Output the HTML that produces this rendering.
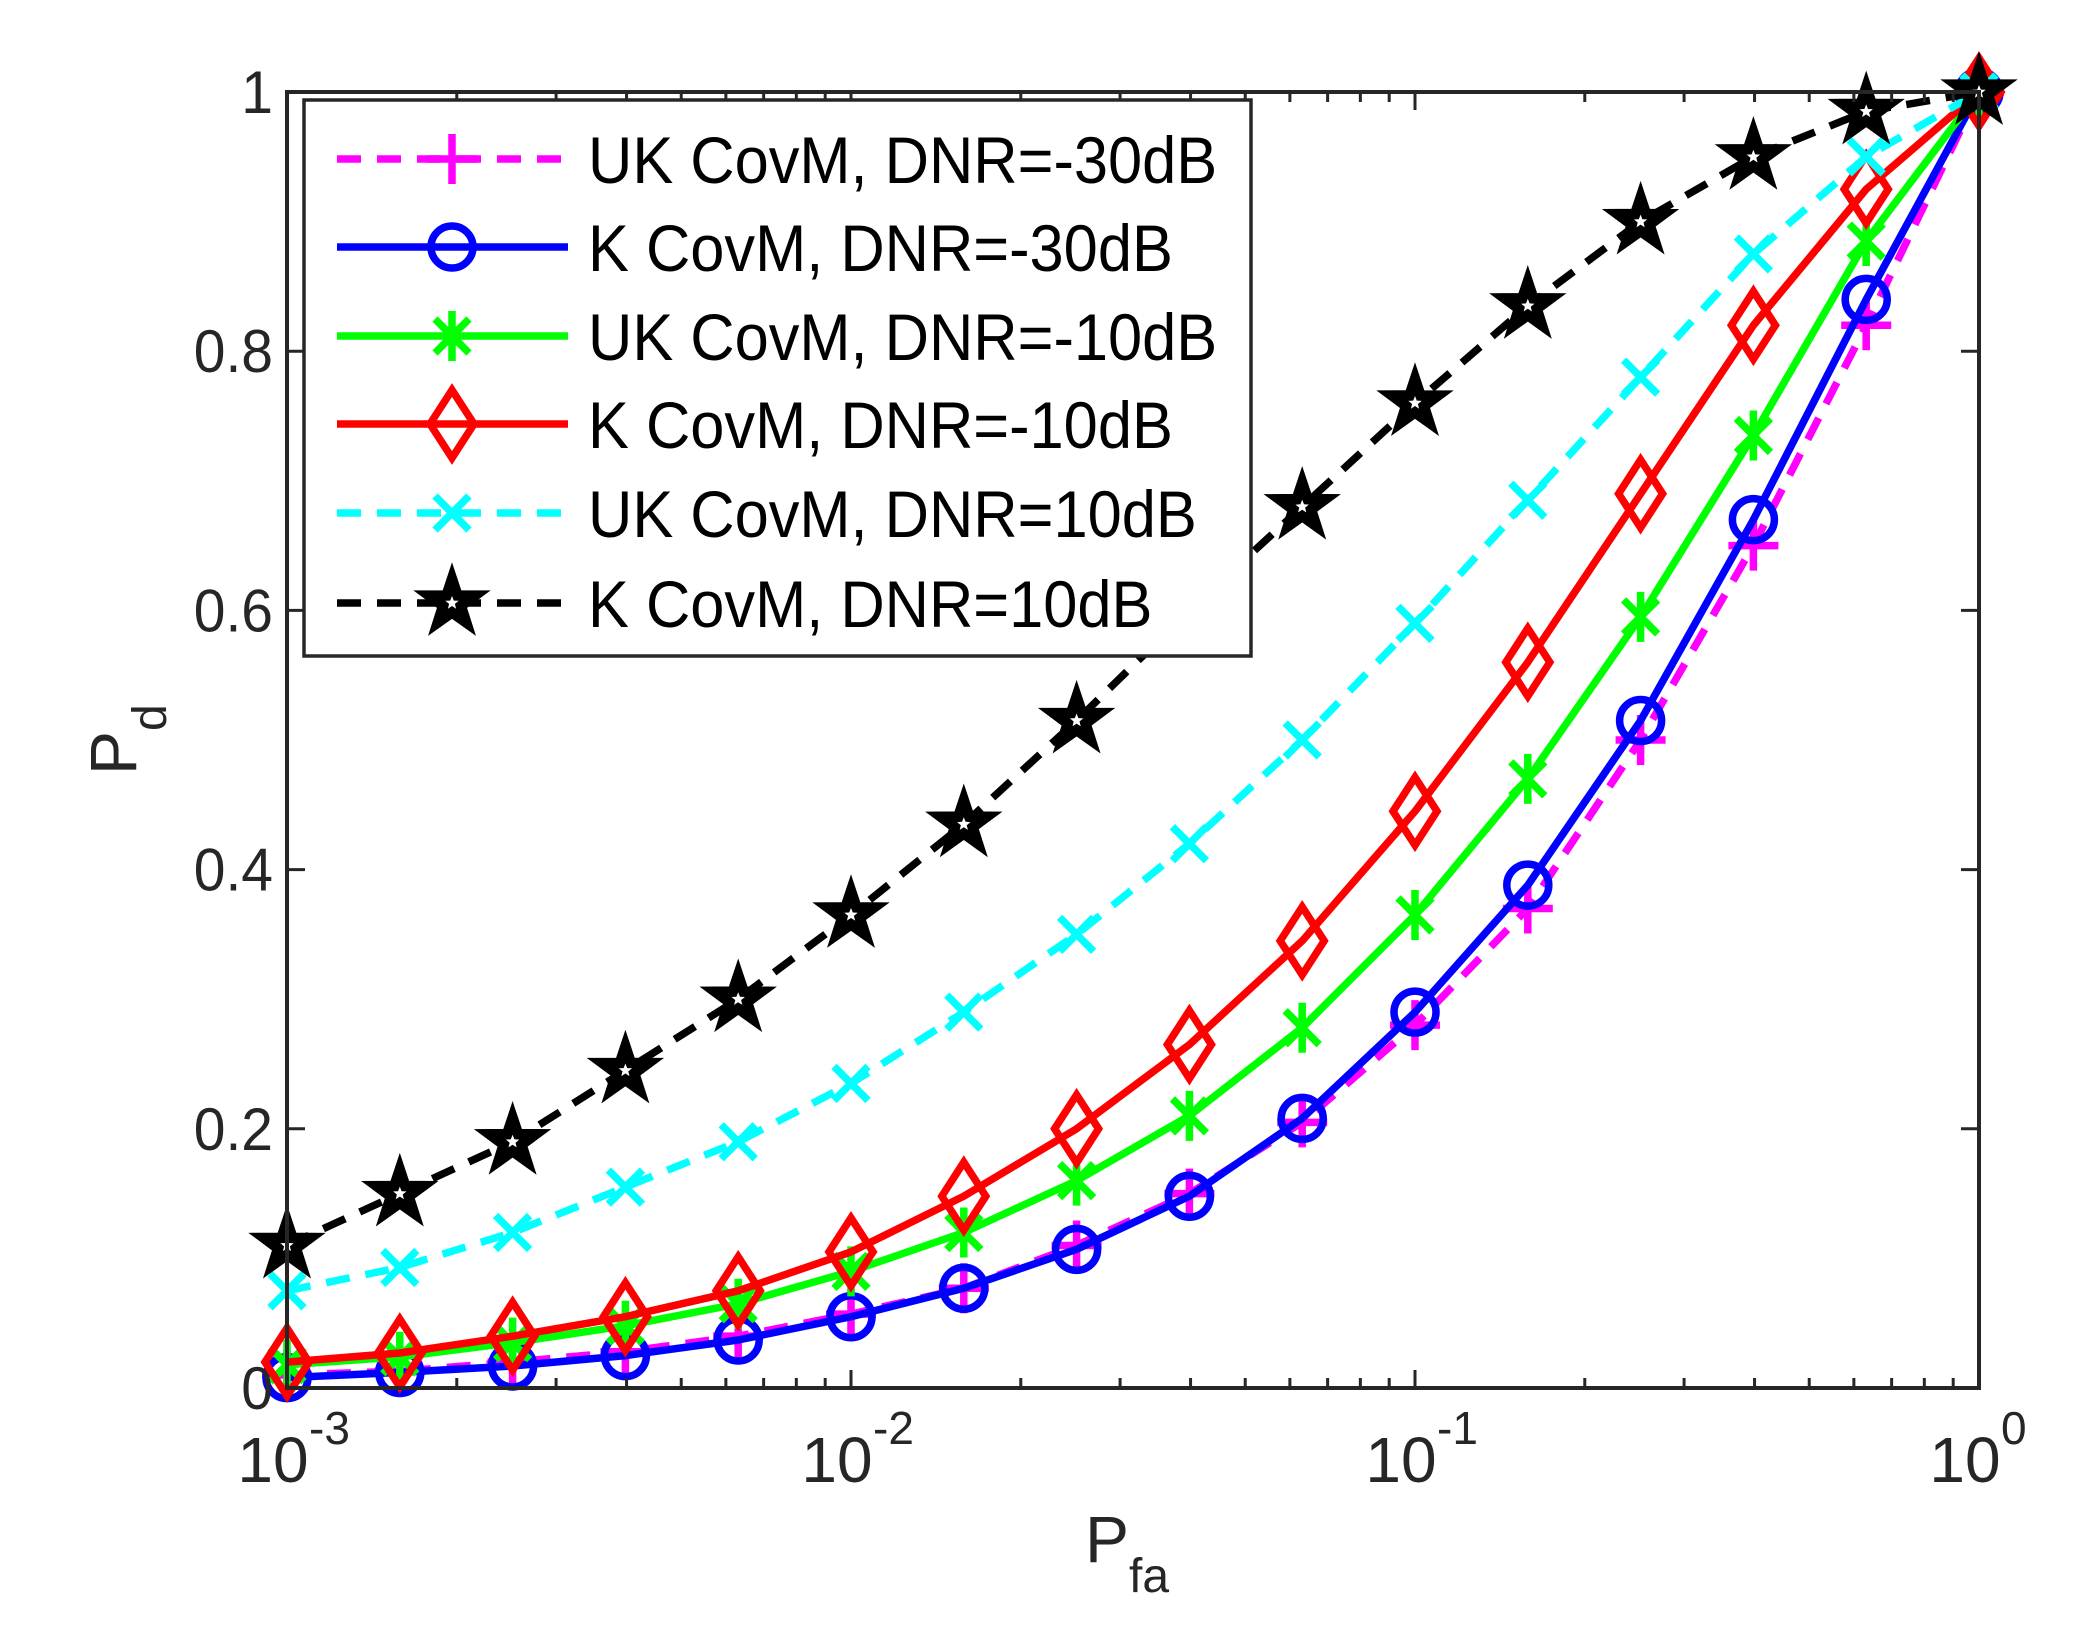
<!DOCTYPE html>
<html><head><meta charset="utf-8"><style>
html,body{margin:0;padding:0;background:#fff;}
svg{display:block;font-family:"Liberation Sans",Arial,sans-serif;}
</style></head><body>
<svg id="chart" width="2073" height="1631" viewBox="0 0 2073 1631" xmlns="http://www.w3.org/2000/svg">
<rect width="2073" height="1631" fill="#fff"/>
<g id="plot"></g>
<g id="axes"></g>
<g id="legend"></g>
</svg>
<script>
const xExp = [-3,-2.8,-2.6,-2.4,-2.2,-2,-1.8,-1.6,-1.4,-1.2,-1,-0.8,-0.6,-0.4,-0.2,0];
const ukM30 = [0.01,0.013,0.02,0.028,0.04,0.057,0.077,0.11,0.15,0.205,0.28,0.37,0.5,0.65,0.82,1.0];
const kM30 = [0.008,0.012,0.017,0.025,0.037,0.055,0.077,0.107,0.148,0.208,0.29,0.388,0.515,0.67,0.84,1.0];
const ukM10 = [0.018,0.024,0.035,0.048,0.065,0.09,0.12,0.16,0.21,0.278,0.365,0.47,0.595,0.735,0.885,1.0];
const kM10 = [0.02,0.027,0.04,0.055,0.075,0.105,0.148,0.2,0.265,0.345,0.445,0.56,0.69,0.82,0.925,1.0];
const uk10 = [0.075,0.093,0.12,0.155,0.19,0.235,0.29,0.35,0.42,0.5,0.59,0.685,0.78,0.875,0.95,1.0];
const k10 = [0.11,0.15,0.19,0.245,0.3,0.365,0.435,0.515,0.6,0.68,0.76,0.835,0.9,0.95,0.985,1.0];
const yTicks = [0,0.2,0.4,0.6,0.8,1];
const yTickLabels = ["0","0.2","0.4","0.6","0.8","1"];
const xTickExps = [-3,-2,-1,0];
const legendLabels = ["UK CovM, DNR=-30dB","K CovM, DNR=-30dB","UK CovM, DNR=-10dB","K CovM, DNR=-10dB","UK CovM, DNR=10dB","K CovM, DNR=10dB"];

const L=287,R=1979,T=92,B=1388;
const NS="http://www.w3.org/2000/svg";
function sx(e){return L+(e+3)/3*(R-L);}
function sy(v){return B-v*(B-T);}
function mk(tag,attrs,parent){const el=document.createElementNS(NS,tag);for(const k in attrs)el.setAttribute(k,attrs[k]);parent.appendChild(el);return el;}

const series=[
 {name:"uk-dnr-m30",data:ukM30,color:"#ff00ff",dash:"24 16",marker:"plus"},
 {name:"k-dnr-m30",data:kM30,color:"#0000ff",dash:"",marker:"circle"},
 {name:"uk-dnr-m10",data:ukM10,color:"#00ff00",dash:"",marker:"asterisk"},
 {name:"k-dnr-m10",data:kM10,color:"#ff0000",dash:"",marker:"diamond"},
 {name:"uk-dnr-10",data:uk10,color:"#00ffff",dash:"24 16",marker:"cross"},
 {name:"k-dnr-10",data:k10,color:"#000000",dash:"24 16",marker:"star"}
];

function drawMarker(g,type,x,y,c){
 let el;
 const sw=7.5;
 if(type==="circle"){el=mk("circle",{cx:x,cy:y,r:21,fill:"none",stroke:c,"stroke-width":sw},g);}
 else if(type==="plus"){el=mk("path",{d:`M${x-25},${y}H${x+25}M${x},${y-25}V${y+25}`,stroke:c,"stroke-width":sw,fill:"none"},g);}
 else if(type==="cross"){const d=17;el=mk("path",{d:`M${x-d},${y-d}L${x+d},${y+d}M${x-d},${y+d}L${x+d},${y-d}`,stroke:c,"stroke-width":sw,fill:"none"},g);}
 else if(type==="asterisk"){const d=17;el=mk("path",{d:`M${x},${y-25}V${y+25}M${x-d},${y-d}L${x+d},${y+d}M${x-d},${y+d}L${x+d},${y-d}`,stroke:c,"stroke-width":sw,fill:"none"},g);}
 else if(type==="diamond"){el=mk("path",{d:`M${x},${y-34}L${x+22},${y}L${x},${y+34}L${x-22},${y}Z`,stroke:c,"stroke-width":sw,fill:"none"},g);}
 else if(type==="star"){
  let p="";for(let i=0;i<10;i++){const a=-Math.PI/2+i*Math.PI/5;const r=i%2?14:36;p+=(i?"L":"M")+(x+r*Math.cos(a)).toFixed(1)+","+(y+r*Math.sin(a)).toFixed(1);}
  el=mk("path",{d:p+"Z",fill:c,stroke:c,"stroke-width":3,"stroke-linejoin":"miter"},g);
  let q="";for(let i=0;i<10;i++){const a=-Math.PI/2+i*Math.PI/5;const r=i%2?3:7;q+=(i?"L":"M")+(x+r*Math.cos(a)).toFixed(1)+","+(y+r*Math.sin(a)).toFixed(1);}
  mk("path",{d:q+"Z",fill:"#fff"},g);
 }
 return el;
}

const plot=document.getElementById("plot");
series.forEach(s=>{
 const g=mk("g",{},plot);
 
 
 const pts=s.data.map((v,i)=>sx(xExp[i]).toFixed(1)+","+sy(v).toFixed(1)).join(" ");
 const line=mk("polyline",{points:pts,fill:"none",stroke:s.color,"stroke-width":7.5,"stroke-dasharray":s.dash||"none","stroke-linejoin":"round"},g);
 
 
 s.data.forEach((v,i)=>{
  const m=drawMarker(g,s.marker,sx(xExp[i]),sy(v),s.color);
  
  
 });
});

const axes=document.getElementById("axes");
const ac="#262626";
const box=mk("rect",{x:L,y:T,width:R-L,height:B-T,fill:"none",stroke:ac,"stroke-width":4},axes);


yTicks.forEach((v,i)=>{
 const y=sy(v);
 mk("path",{d:`M${L},${y}h18M${R},${y}h-18`,stroke:ac,"stroke-width":3},axes);
 const t=mk("text",{x:L-14,y:y+21,"text-anchor":"end","font-size":60,fill:ac,transform:`translate(${L-14},0) scale(0.95,1) translate(${-(L-14)},0)`},axes);
 t.textContent=yTickLabels[i];
 
 
});
for(let d=-3;d<0;d++){
 for(let k=1;k<10;k++){
  const x=sx(d+Math.log10(k));
  const len=k===1?18:10;
  mk("path",{d:`M${x},${B}v${-len}M${x},${T}v${len}`,stroke:ac,"stroke-width":3},axes);
 }
}
mk("path",{d:`M${R},${B}v-18M${R},${T}v18`,stroke:ac,"stroke-width":3},axes);
xTickExps.forEach(e=>{
 const x=sx(e);
 const t=mk("text",{x:x-14,y:1482,"text-anchor":"middle","font-size":64,fill:ac},axes);
 t.textContent="10";
 
 
 const s=mk("text",{x:x+22,y:1444,"text-anchor":"start","font-size":46,fill:ac},axes);
 s.textContent=String(e);
 
 
});
</script>
<svg style="position:absolute;left:0;top:0" width="2073" height="1631">
<text x="1085" y="1562" font-family="Liberation Sans, sans-serif" font-size="66" fill="#262626">P<tspan font-size="48" dy="30">fa</tspan></text>
<text transform="translate(136,775) rotate(-90)" font-family="Liberation Sans, sans-serif" font-size="66" fill="#262626">P<tspan font-size="48" dy="30">d</tspan></text>
</svg>
<script>
(function(){
 const lg=document.getElementById("legend");
 const fr=mk("rect",{x:304,y:100,width:947,height:556,fill:"#fff",stroke:ac,"stroke-width":3.5},lg);
 
 
 const ys=[159,247,336,424,513,603];
 series.forEach((s,i)=>{
  const g=mk("g",{},lg);
  
  
  const y=ys[i];
  mk("line",{x1:337,y1:y,x2:568,y2:y,stroke:s.color,"stroke-width":7.5,"stroke-dasharray":s.dash||"none"},g);
  drawMarker(g,s.marker,452,y,s.color);
  const t=mk("text",{x:0,y:0,"font-size":66,fill:"#000",transform:`translate(588,${y+24}) scale(0.93,1)`},g);
  t.textContent=legendLabels[i];
  
  
 });
})();
</script>
</body></html>
